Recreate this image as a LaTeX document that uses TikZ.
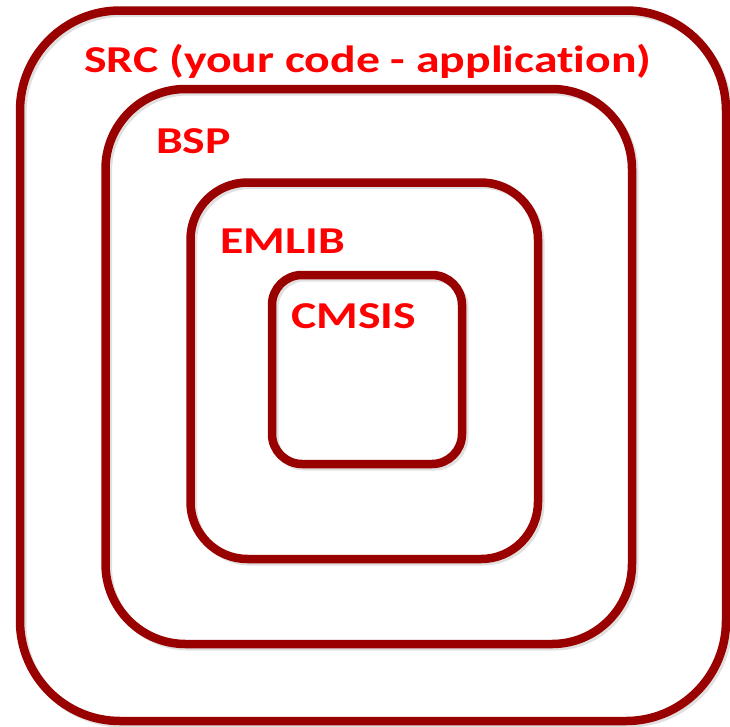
\documentclass[tikz,border=0pt]{standalone}
\usepackage{fontspec}
\setmainfont[Ligatures=NoCommon]{Carlito}
\definecolor{boxred}{HTML}{990000}
\definecolor{txtred}{HTML}{FF0000}
\newcommand{\widetext}[1]{\scalebox{1.255}[1]{#1}}
\begin{document}
\begin{tikzpicture}[x=1pt,y=-1pt,
  layer/.style={draw=boxred, line width=8.5pt, rectangle, inner sep=0pt, outer sep=0pt},
  shade/.style={draw=black!35, opacity=0.35, line width=8pt, rectangle, inner sep=0pt, outer sep=0pt},
  lbl/.style={text=txtred, font=\fontsize{38}{40}\selectfont\bfseries, inner sep=0pt, anchor=base west}]
\useasboundingbox (0,0) rectangle (730,726);
% shadows
\node[shade, rounded corners=100pt, minimum width=706pt, minimum height=710.5pt] at (375.5,368.25) {};
\node[shade, rounded corners=80pt, minimum width=526.5pt, minimum height=555pt] at (371.25,369) {};
\node[shade, rounded corners=57pt, minimum width=347.5pt, minimum height=376.5pt] at (366.75,373.25) {};
\node[shade, rounded corners=30pt, minimum width=190pt, minimum height=189pt] at (369.5,372) {};
% boxes
\node[layer, rounded corners=100pt, minimum width=706pt, minimum height=710.5pt] (src) at (373,365.75) {};
\node[layer, rounded corners=80pt, minimum width=526.5pt, minimum height=555pt] (bsp) at (368.75,366.5) {};
\node[layer, rounded corners=57pt, minimum width=347.5pt, minimum height=376.5pt] (emlib) at (364.25,370.75) {};
\node[layer, rounded corners=30pt, minimum width=190pt, minimum height=189pt] (cmsis) at (367,369.5) {};
% labels
\node[lbl] (tsrc) at (84,72) {\widetext{SRC (your code - application)}};
\node[lbl] (tbsp) at (156,153) {\widetext{BSP}};
\node[lbl] (temlib) at (220,253) {\widetext{EMLIB}};
\node[lbl] (tcmsis) at (291,328) {\widetext{CMSIS}};
\end{tikzpicture}
\end{document}
